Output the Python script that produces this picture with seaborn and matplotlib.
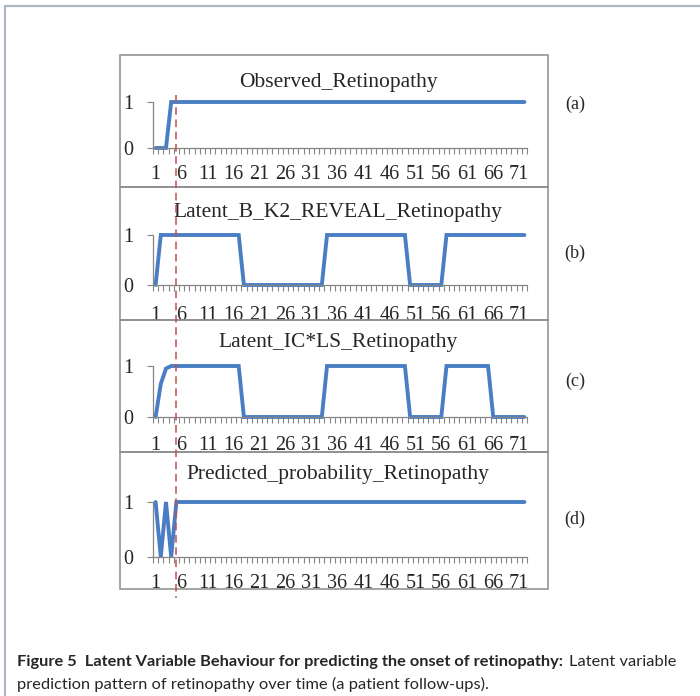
import pandas as pd
import matplotlib
matplotlib.use("Agg")
import matplotlib.pyplot as plt
import matplotlib.transforms as mtransforms
from matplotlib.patches import Rectangle
from matplotlib.lines import Line2D
from matplotlib.ticker import FixedLocator
import seaborn as sns

# follow-up index (patient visits)
follow_up = list(range(1, 73))

# series
observed = [0, 0, 0] + [1] * 69
latent_b_k2 = [0] + [1] * 16 + [0] * 16 + [1] * 16 + [0] * 7 + [1] * 16
latent_ic_ls = [0, 0.65, 0.95] + [1] * 14 + [0] * 16 + [1] * 16 + [0] * 7 + [1] * 9 + [0] * 7
predicted = [1, 0, 1, 0] + [1] * 68

series = [observed, latent_b_k2, latent_ic_ls, predicted]
titles = ["Observed_Retinopathy", "Latent_B_K2_REVEAL_Retinopathy",
          "Latent_IC*LS_Retinopathy", "Predicted_probability_Retinopathy"]
tags = ["(a)", "(b)", "(c)", "(d)"]
onset = 5
xtick_labels = [str(v) for v in follow_up if (v - 1) % 5 == 0]

# layout (pixels, measured from top-left)
W, H = 700, 696
plot_x0, plot_x1 = 153, 527
box_x0, box_x1 = 120, 548
# box_top, box_bottom, plot_top, plot_bottom, title_y, tag_y, xlabel_pad
panels = [(55, 187, 102, 148, 83, 104, 12),
          (187, 320, 235, 285, 212, 253, 15),
          (320, 452, 366, 417, 343, 381, 14),
          (452, 589, 502, 557, 475, 519, 12)]

BLUE = "#4a7ec4"
RED = "#c0504d"
GRAY = "#868686"
SERIF = "Liberation Serif"

sns.set_theme(style="white")
plt.rcParams["font.family"] = [SERIF, "DejaVu Sans"]

fig = plt.figure(figsize=(W / 100, H / 100), dpi=100)
fig.patch.set_facecolor("white")

# outer frame of the figure panel
fig.patches.append(Rectangle((5 / W, -0.05), 1.1, 1 - 6 / H + 0.05, transform=fig.transFigure,
                             fill=False, edgecolor="#aeb8c4", linewidth=1.6, zorder=0))

axes = []
for vals, title, tag, (bt, bb, pt, pb, ty, tgy, xpad) in zip(series, titles, tags, panels):
    # chart box
    fig.patches.append(Rectangle((box_x0 / W, 1 - bb / H), (box_x1 - box_x0) / W, (bb - bt) / H,
                                 transform=fig.transFigure, fill=False, edgecolor="#8c8c8c",
                                 linewidth=1.1, zorder=1))
    ax = fig.add_axes([plot_x0 / W, 1 - pb / H, (plot_x1 - plot_x0) / W, (pb - pt) / H])
    ax.patch.set_alpha(0)
    df = pd.DataFrame({"follow_up": follow_up, "value": vals})
    sns.lineplot(data=df, x="follow_up", y="value", ax=ax, color=BLUE, linewidth=2.8)
    for ln in ax.lines:
        ln.set_clip_on(False)
        ln.set_solid_joinstyle("miter")
    ax.set_xlim(0.5, len(follow_up) + 0.5)
    ax.set_ylim(0, 1)
    ax.set_xlabel("")
    ax.set_ylabel("")
    for s in ["top", "right"]:
        ax.spines[s].set_visible(False)
    for s in ["left", "bottom"]:
        ax.spines[s].set_color(GRAY)
        ax.spines[s].set_linewidth(0.9)
    ax.xaxis.set_major_locator(FixedLocator([int(v) for v in xtick_labels]))
    ax.set_xticklabels(xtick_labels)
    ax.xaxis.set_minor_locator(FixedLocator([v + 0.5 for v in range(len(follow_up) + 1)]))
    ax.set_yticks([0, 1])
    ax.set_yticklabels(["0", "1"])
    ax.tick_params(axis="x", which="major", length=0, pad=xpad, labelsize=14.5)
    ax.tick_params(axis="x", which="minor", length=4.5, width=0.8, color=GRAY, direction="out", bottom=True)
    ax.tick_params(axis="y", which="major", length=4, width=0.8, color=GRAY, direction="out",
                   left=True, pad=10, labelsize=14.5)
    for lab in ax.get_xticklabels() + ax.get_yticklabels():
        lab.set_fontfamily(SERIF)
    box = mtransforms.TransformedBbox(
        mtransforms.Bbox.from_extents(box_x0 / W, 1 - bb / H, box_x1 / W, 1 - bt / H), fig.transFigure)
    for lab in ax.get_xticklabels():
        lab.set_clip_on(True)
        lab.set_clip_box(box)
    fig.text((plot_x0 + plot_x1) / 2 / W - 2 / W, 1 - ty / H, title, ha="center", va="center",
             fontsize=15.5, family=SERIF)
    fig.text(575 / W, 1 - tgy / H, tag, ha="center", va="center", fontsize=13, family=SERIF)
    axes.append(ax)

# onset marker across all panels
trans = mtransforms.blended_transform_factory(axes[0].transData, fig.transFigure)
fig.lines.append(Line2D([onset, onset], [1 - 95 / H, 1 - 598 / H], transform=trans, color=RED,
                        linewidth=1.1, linestyle=(0, (5, 3)), zorder=5))

# caption
cap_bold = "Figure 5  Latent Variable Behaviour for predicting the onset of retinopathy:"
cap_rest = "Latent variable"
cap_line2 = "prediction pattern of retinopathy over time (a patient follow-ups)."
t1 = fig.text(17 / W, 1 - 662 / H, cap_bold, ha="left", va="center", fontsize=11.8,
              family="Lato", fontweight="bold")
renderer = fig.canvas.get_renderer()
ext = t1.get_window_extent(renderer)
fig.text((ext.x1 + 6) / W, 1 - 662 / H, cap_rest, ha="left", va="center", fontsize=11.8, family="Lato")
fig.text(17 / W, 1 - 684 / H, cap_line2, ha="left", va="center", fontsize=11.8, family="Lato")

fig.savefig("out.png", dpi=100)
